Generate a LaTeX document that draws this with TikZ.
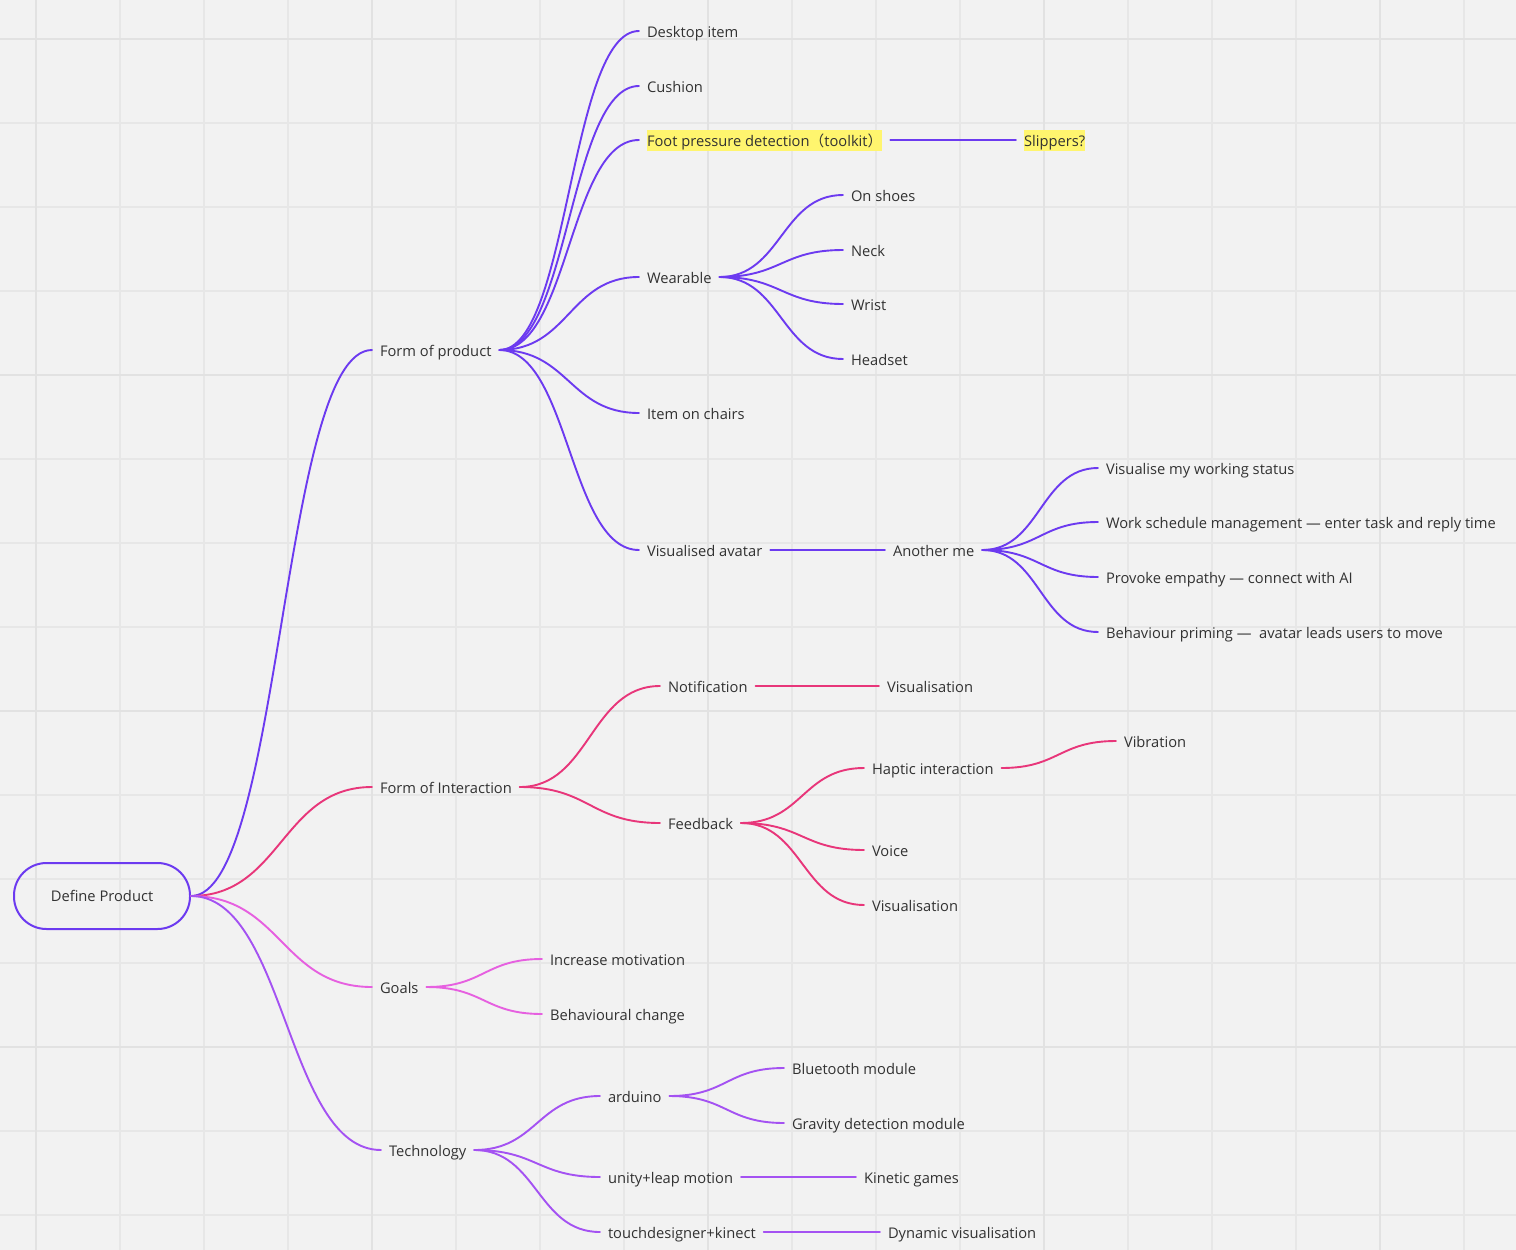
\documentclass[tikz,border=0pt]{standalone}
\usepackage{fontspec}
\setmainfont{Open Sans}
\newfontfamily\cjk{Noto Sans CJK SC}
\usetikzlibrary{calc}
\definecolor{bg}{RGB}{242,242,242}
\definecolor{gridc}{RGB}{231,231,231}
\definecolor{gridm}{RGB}{226,226,226}
\definecolor{cprod}{RGB}{108,58,240}
\definecolor{cint}{RGB}{232,54,122}
\definecolor{cgoal}{RGB}{230,96,224}
\definecolor{ctech}{RGB}{164,82,242}
\definecolor{txt}{RGB}{50,50,50}
\definecolor{hly}{RGB}{255,245,110}
\tikzset{
  lbl/.style={anchor=west, inner xsep=0pt, inner ysep=2pt, outer xsep=8pt, text height=14.5pt, text depth=2.5pt, text=txt, font=\fontsize{14.7}{17}\selectfont},
  hl/.style={lbl, fill=hly},
  rootbox/.style={draw=cprod, line width=2pt, rounded corners=32.5pt, minimum width=176pt, minimum height=66pt, text=txt, font=\fontsize{14.7}{17}\selectfont, inner sep=0pt},
  conn/.style={line width=1.9pt, line cap=round, to path={let \p1=(\tikztostart), \p2=(\tikztotarget), \n1={0.5*(\x2-\x1)} in .. controls +(\n1,0) and +(-\n1,0) .. (\tikztotarget)}},
  pr/.style={conn, draw=cprod},
}
\begin{document}
\begin{tikzpicture}[x=1pt,y=-1pt]
\fill[bg] (0,0) rectangle (1516,1250);
\useasboundingbox (0,0) rectangle (1516,1250);
% grid
\foreach \gx in {36,120,...,1464} \draw[gridc, line width=1.6pt] (\gx,0) -- (\gx,1250);
\foreach \gy in {39,123,...,1215} \draw[gridc, line width=1.6pt] (0,\gy) -- (1516,\gy);
\foreach \gx in {36,372,708,1044,1380} \draw[gridm, line width=2.2pt] (\gx,0) -- (\gx,1250);
\foreach \gy in {39,375,711,1047} \draw[gridm, line width=2.2pt] (0,\gy) -- (1516,\gy);

% root
\node[rootbox] (root) at (102,896) {Define Product};

% level 1
\node[lbl] (fop) at (372,350) {Form of product};
\node[lbl] (foi) at (372,787) {Form of Interaction};
\node[lbl] (goals) at (372,987) {Goals};
\node[lbl] (tech) at (381,1150) {Technology};

% form of product
\node[lbl] (desk) at (639,31) {Desktop item};
\node[lbl] (cush) at (639,86) {Cushion};
\node[hl] (foot) at (639,140) {Foot pressure detection{\cjk（}toolkit{\cjk）}};
\node[hl] (slip) at (1016,140) {Slippers?};
\node[lbl] (wear) at (639,277) {Wearable};
\node[lbl] (shoes) at (843,195) {On shoes};
\node[lbl] (neck) at (843,250) {Neck};
\node[lbl] (wrist) at (843,304) {Wrist};
\node[lbl] (head) at (843,359) {Headset};
\node[lbl] (chairs) at (639,413) {Item on chairs};
\node[lbl] (avatar) at (639,550) {Visualised avatar};
\node[lbl] (another) at (885,550) {Another me};
\node[lbl] (vws) at (1098,468) {Visualise my working status};
\node[lbl] (wsm) at (1098,522) {Work schedule management — enter task and reply time};
\node[lbl] (emp) at (1098,577) {Provoke empathy — connect with AI};
\node[lbl] (prim) at (1098,632) {Behaviour priming —\ \ avatar leads users to move};

% form of interaction
\node[lbl] (notif) at (660,686) {Notification};
\node[lbl] (vis1) at (879,686) {Visualisation};
\node[lbl] (feed) at (660,823) {Feedback};
\node[lbl] (hapt) at (864,768) {Haptic interaction};
\node[lbl] (vib) at (1116,741) {Vibration};
\node[lbl] (voice) at (864,850) {Voice};
\node[lbl] (vis2) at (864,905) {Visualisation};

% goals
\node[lbl] (motiv) at (542,959) {Increase motivation};
\node[lbl] (behav) at (542,1014) {Behavioural change};

% technology
\node[lbl] (ard) at (600,1096) {arduino};
\node[lbl] (bt) at (784,1068) {Bluetooth module};
\node[lbl] (grav) at (784,1123) {Gravity detection module};
\node[lbl] (unity) at (600,1177) {unity+leap motion};
\node[lbl] (kin) at (856,1177) {Kinetic games};
\node[lbl] (touch) at (600,1232) {touchdesigner+kinect};
\node[lbl] (dyn) at (880,1232) {Dynamic visualisation};

% connectors
\draw[pr] (root.east) to (fop.west);
\draw[conn, draw=cint] (root.east) to (foi.west);
\draw[conn, draw=cgoal] (root.east) to (goals.west);
\draw[conn, draw=ctech] (root.east) to (tech.west);

\foreach \t in {desk,cush,foot,wear,chairs,avatar} \draw[pr] (fop.east) to (\t.west);
\draw[pr] (foot.east) to (slip.west);
\foreach \t in {shoes,neck,wrist,head} \draw[pr] (wear.east) to (\t.west);
\draw[pr] (avatar.east) to (another.west);
\foreach \t in {vws,wsm,emp,prim} \draw[pr] (another.east) to (\t.west);

\foreach \t in {notif,feed} \draw[conn, draw=cint] (foi.east) to (\t.west);
\draw[conn, draw=cint] (notif.east) to (vis1.west);
\foreach \t in {hapt,voice,vis2} \draw[conn, draw=cint] (feed.east) to (\t.west);
\draw[conn, draw=cint] (hapt.east) to (vib.west);

\foreach \t in {motiv,behav} \draw[conn, draw=cgoal] (goals.east) to (\t.west);

\foreach \t in {ard,unity,touch} \draw[conn, draw=ctech] (tech.east) to (\t.west);
\foreach \t in {bt,grav} \draw[conn, draw=ctech] (ard.east) to (\t.west);
\draw[conn, draw=ctech] (unity.east) to (kin.west);
\draw[conn, draw=ctech] (touch.east) to (dyn.west);
\end{tikzpicture}
\end{document}
